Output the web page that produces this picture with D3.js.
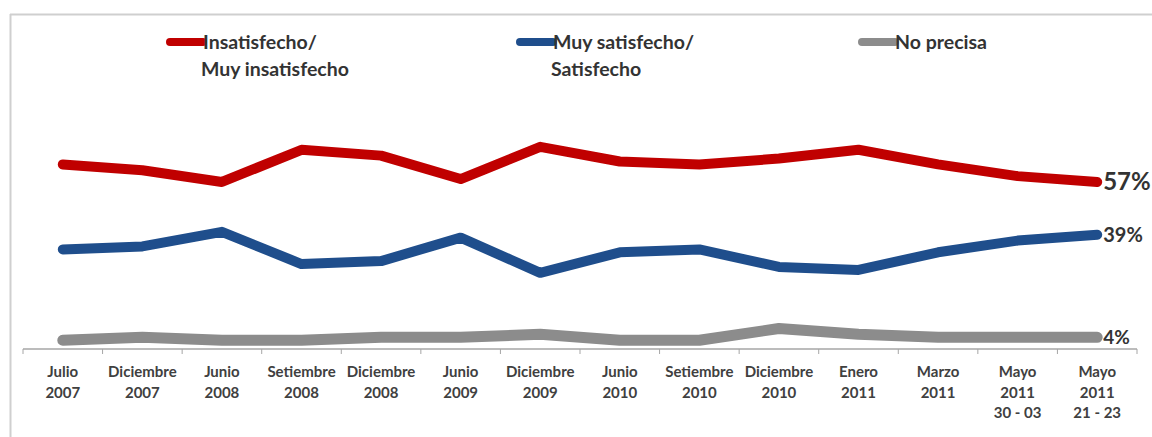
<!DOCTYPE html>
<html>
<head>
<meta charset="utf-8">
<script src="https://cdn.jsdelivr.net/npm/d3@7"></script>
<style>
  body { margin: 0; background: #fff; }
  svg { display: block; font-family: Lato, "Open Sans", sans-serif; }
  .lbl { font-weight: bold; fill: #404040; }
</style>
</head>
<body>
<svg width="1152" height="437"></svg>
<script>
// categories along the x axis (each label split into lines)
var periods = [
  ['Julio', '2007'], ['Diciembre', '2007'], ['Junio', '2008'], ['Setiembre', '2008'],
  ['Diciembre', '2008'], ['Junio', '2009'], ['Diciembre', '2009'], ['Junio', '2010'],
  ['Setiembre', '2010'], ['Diciembre', '2010'], ['Enero', '2011'], ['Marzo', '2011'],
  ['Mayo', '2011', '30 - 03'], ['Mayo', '2011', '21 - 23']
];
// series values, percent
var insatisfecho = [63, 61, 57, 68, 66, 58, 69, 64, 63, 65, 68, 63, 59, 57];
var satisfecho   = [34, 35, 40, 29, 30, 38, 26, 33, 34, 28, 27, 33, 37, 39];
var noPrecisa    = [3, 4, 3, 3, 4, 4, 5, 3, 3, 7, 5, 4, 4, 4];

var series = [
  {name: ['Insatisfecho/', 'Muy insatisfecho'], values: insatisfecho, color: '#c00000', legendX: 170, width: 10, endSize: 24},
  {name: ['Muy satisfecho/', 'Satisfecho'], values: satisfecho, color: '#1f4e8c', legendX: 520, width: 10, endSize: 20},
  {name: ['No precisa'], values: noPrecisa, color: '#8c8c8c', legendX: 862, width: 11, endSize: 19}
];

var svg = d3.select('svg');
var keys = periods.map(function(d) { return d.join(' '); });

var x = d3.scaleBand().domain(keys).range([23, 1137]);
var y = d3.scaleLinear().domain([0, 100]).range([349, 56]);

// frame
svg.append('line').attr('x1', 10).attr('x2', 1152).attr('y1', 14.5).attr('y2', 14.5)
  .attr('stroke', '#cfcfcf').attr('stroke-width', 2);
svg.append('line').attr('x1', 10.5).attr('x2', 10.5).attr('y1', 14).attr('y2', 437)
  .attr('stroke', '#cfcfcf').attr('stroke-width', 2);

// x axis: line plus ticks at band boundaries
var axisG = svg.append('g').attr('transform', 'translate(0,349)');
axisG.append('line').attr('x1', 23).attr('x2', 1137).attr('stroke', '#a6a6a6').attr('stroke-width', 1.5);
axisG.selectAll('.tk')
  .data(keys.concat(['end']))
  .enter().append('line')
  .attr('class', 'tk')
  .attr('x1', function(d, i) { return 23 + i * x.step(); })
  .attr('x2', function(d, i) { return 23 + i * x.step(); })
  .attr('y1', 0).attr('y2', 5)
  .attr('stroke', '#a6a6a6');

// category labels
var labG = svg.append('g');
labG.selectAll('text')
  .data(periods)
  .enter().append('text')
  .attr('class', 'lbl')
  .attr('text-anchor', 'middle')
  .style('font-size', '15px')
  .attr('transform', function(d, i) { return 'translate(' + (x(keys[i]) + x.bandwidth() / 2) + ',377)'; })
  .selectAll('tspan')
  .data(function(d) { return d; })
  .enter().append('tspan')
  .attr('x', 0)
  .attr('y', function(d, i) { return i * 20.5; })
  .text(function(d) { return d; });

// lines
var line = d3.line()
  .x(function(d, i) { return x(keys[i]) + x.bandwidth() / 2; })
  .y(function(d) { return y(d); });

series.forEach(function(s) {
  svg.append('path')
    .datum(s.values)
    .attr('d', line)
    .attr('fill', 'none')
    .attr('stroke', s.color)
    .attr('stroke-width', s.width)
    .attr('stroke-linecap', 'round')
    .attr('stroke-linejoin', 'round');

  var last = s.values[s.values.length - 1];
  svg.append('text')
    .attr('class', 'lbl')
    .attr('x', x(keys[keys.length - 1]) + x.bandwidth() / 2 + 6)
    .attr('y', y(last))
    .attr('dy', '0.35em')
    .style('font-size', s.endSize + 'px')
    .style('fill', '#333')
    .text(last + '%');

  // legend
  var lg = svg.append('g').attr('transform', 'translate(' + s.legendX + ',42)');
  lg.append('line').attr('x1', 0).attr('x2', 33).attr('stroke', s.color)
    .attr('stroke-width', 8).attr('stroke-linecap', 'round');
  lg.append('text')
    .attr('class', 'lbl')
    .style('font-size', '19.5px')
    .style('fill', '#333')
    .selectAll('tspan')
    .data(s.name)
    .enter().append('tspan')
    .attr('x', function(d, i) { return i == 0 ? 33 : 31; })
    .attr('y', function(d, i) { return 7 + i * 27; })
    .text(function(d) { return d; });
});
</script>
</body>
</html>
